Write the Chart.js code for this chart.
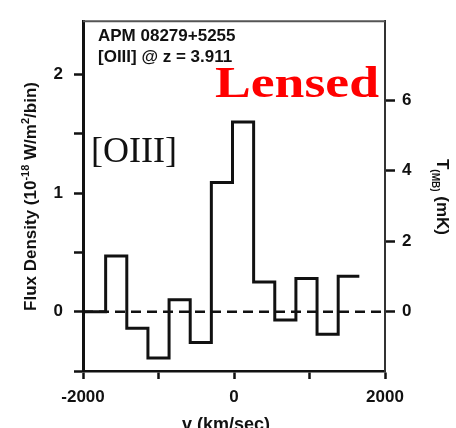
<!DOCTYPE html>
<html>
<head>
<meta charset="utf-8">
<script src="https://cdn.jsdelivr.net/npm/chart.js@4.4.1/dist/chart.umd.min.js"></script>
<style>
  html, body { margin: 0; padding: 0; background: #fff; }
  #wrap { width: 456px; height: 428px; position: relative; }
</style>
</head>
<body>
<div id="wrap"><canvas id="spec" width="456" height="428"></canvas></div>
<script>
// bin left edges (km/s), last entry is the right edge of the final bin
const binEdges = [-1980, -1700, -1420, -1140, -860, -580, -300, -20, 260, 540, 820, 1100, 1380, 1660];
// flux density per bin (1e-18 W/m^2/bin)
const fluxValues = [0, 0.47, -0.14, -0.39, 0.10, -0.26, 1.09, 1.60, 0.25, -0.07, 0.28, -0.19, 0.30];

const xTicks = [-2000, -1000, 0, 1000, 2000];
const xLabelled = [-2000, 0, 2000];
const yTicks = [-0.5, 0, 0.5, 1, 1.5, 2];
const yLabelled = [0, 1, 2];
const tmbTicks = [0, 2, 4, 6];

const xRange = [-2000, 2000];
const fluxRange = [-0.5, 2.45];
const tmbPerFlux = 3.365; // right axis scale factor (mK per flux unit)

const SANS = '"Liberation Sans", Arial, sans-serif';
const SERIF = '"Liberation Serif", "Times New Roman", serif';
const INK = "#111";

const stepPts = binEdges.map((x, i) => ({ x, y: fluxValues[Math.min(i, fluxValues.length - 1)] }));

// draws frame top, axis titles and the text labels
const decor = {
  id: "decor",
  afterDraw(chart) {
    const { ctx, chartArea: a } = chart;
    ctx.save();

    // top of the box
    ctx.strokeStyle = "#555";
    ctx.lineWidth = 2;
    ctx.beginPath();
    ctx.moveTo(a.left, a.top);
    ctx.lineTo(a.right, a.top);
    ctx.stroke();

    ctx.fillStyle = INK;
    ctx.textBaseline = "alphabetic";

    // left title with superscripts, rotated
    const big = "bold 17px " + SANS, small = "bold 11px " + SANS;
    const leftParts = [
      ["Flux Density (10", big, 0],
      ["-18", small, -7],
      [" W/m", big, 0],
      ["2", small, -7],
      ["/bin)", big, 0],
    ];
    drawRun(ctx, leftParts, 36, 196.5, -Math.PI / 2);

    // right title T_MB (mK)
    const rightParts = [
      ["T", big, 0],
      ["(MB)", "bold 10px " + SANS, 5],
      [" (mK)", big, 0],
    ];
    drawRun(ctx, rightParts, 437, 197, Math.PI / 2);

    // x title
    ctx.font = "bold 18px " + SANS;
    ctx.textAlign = "center";
    ctx.fillText("v (km/sec)", 226, 430);

    // source labels
    ctx.textAlign = "left";
    ctx.font = "bold 17px " + SANS;
    ctx.fillText("APM 08279+5255", 98, 41);
    ctx.fillText("[OIII] @ z = 3.911", 98, 62);

    ctx.font = "36px " + SERIF;
    ctx.fillText("[OIII]", 91, 162);

    ctx.fillStyle = "#ff0000";
    ctx.font = "bold 45px " + SERIF;
    const w = ctx.measureText("Lensed").width;
    ctx.save();
    ctx.translate(215, 97);
    ctx.scale(164 / w, 1);
    ctx.fillText("Lensed", 0, 0);
    ctx.restore();

    ctx.restore();
  }
};

function drawRun(ctx, parts, cx, cy, angle) {
  let total = 0;
  parts.forEach(p => { ctx.font = p[1]; total += ctx.measureText(p[0]).width; });
  ctx.save();
  ctx.translate(cx, cy);
  ctx.rotate(angle);
  ctx.textAlign = "left";
  let x = -total / 2;
  parts.forEach(p => {
    ctx.font = p[1];
    ctx.fillText(p[0], x, p[2]);
    x += ctx.measureText(p[0]).width;
  });
  ctx.restore();
}

const tickFont = { family: SANS, size: 17, weight: "bold" };

new Chart(document.getElementById("spec"), {
  type: "line",
  data: {
    datasets: [
      {
        label: "flux",
        data: stepPts,
        stepped: "before",
        borderColor: INK,
        borderWidth: 3,
        pointRadius: 0,
        fill: false,
        order: 1,
      },
      {
        label: "zero",
        data: [{ x: xRange[0], y: 0 }, { x: xRange[1], y: 0 }],
        borderColor: INK,
        borderWidth: 2.5,
        borderDash: [10, 6],
        pointRadius: 0,
        fill: false,
        order: 2,
      },
    ],
  },
  options: {
    responsive: false,
    animation: false,
    layout: { padding: { top: 15, left: 0, right: 0, bottom: 0 } },
    plugins: { legend: { display: false }, tooltip: { enabled: false } },
    scales: {
      x: {
        type: "linear",
        min: xRange[0], max: xRange[1],
        afterBuildTicks: s => { s.ticks = xTicks.map(v => ({ value: v })); },
        afterFit: s => { s.height = 57; },
        ticks: {
          font: tickFont, color: INK, padding: 8, maxRotation: 0, autoSkip: false,
          callback: v => xLabelled.includes(v) ? String(v) : "",
        },
        grid: { drawOnChartArea: false, drawTicks: true, tickLength: 8, tickWidth: 2.5, tickColor: INK },
        border: { display: true, color: INK, width: 2.5 },
      },
      y: {
        type: "linear",
        position: "left",
        min: fluxRange[0], max: fluxRange[1],
        afterBuildTicks: s => { s.ticks = yTicks.map(v => ({ value: v })); },
        afterFit: s => { s.width = 83; },
        ticks: {
          font: tickFont, color: INK, padding: 11, autoSkip: false,
          callback: v => yLabelled.includes(v) ? String(v) : "",
        },
        grid: { drawOnChartArea: false, drawTicks: true, tickLength: 9, tickWidth: 2.5, tickColor: INK },
        border: { display: true, color: INK, width: 3 },
      },
      y2: {
        type: "linear",
        axis: "y",
        position: "right",
        min: fluxRange[0] * tmbPerFlux, max: fluxRange[1] * tmbPerFlux,
        afterBuildTicks: s => { s.ticks = tmbTicks.map(v => ({ value: v })); },
        afterFit: s => { s.width = 71; },
        ticks: { font: tickFont, color: INK, padding: 7, autoSkip: false, callback: v => String(v) },
        grid: { drawOnChartArea: false, drawTicks: true, tickLength: 10, tickWidth: 2.5, tickColor: INK },
        border: { display: true, color: "#333", width: 2 },
      },
    },
  },
  plugins: [decor],
});
</script>
</body>
</html>
